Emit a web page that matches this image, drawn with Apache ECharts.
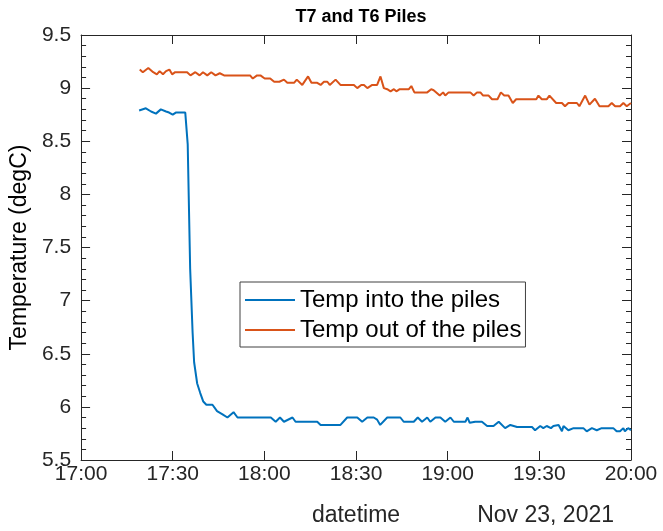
<!DOCTYPE html>
<html>
<head>
<meta charset="utf-8">
<script src="https://cdn.jsdelivr.net/npm/echarts@6/dist/echarts.min.js"></script>
<style>html,body{margin:0;padding:0;background:#fff}#c{width:663px;height:531px}</style>
</head>
<body>
<div id="c"></div>
<script>
// minutes after 17:00
const xTickLabels = ['17:00','17:30','18:00','18:30','19:00','19:30','20:00'];
const seriesNames = ['Temp into the piles','Temp out of the piles'];

const timeIn = [19.0,19.6,21.2,22.9,24.5,26.1,27.8,28.8,30.0,31.0,34.1,34.9,35.7,36.5,37.0,38.0,39.0,40.0,41.0,43.0,44.5,46.3,47.9,49.9,51.2,62.1,63.7,65.1,66.4,69.2,70.2,77.3,78.4,84.9,87.1,90.4,92.0,93.7,95.8,96.9,97.9,100.2,104.5,105.6,108.9,110.2,111.6,113.3,114.3,116.0,117.6,119.2,120.9,122.0,125.8,126.5,127.2,129.0,131.2,132.9,135.0,136.7,138.8,140.5,142.7,147.6,148.6,150.3,151.3,152.4,153.8,154.6,156.3,157.4,157.9,159.5,161.2,164.4,165.5,167.2,168.8,170.4,174.2,175.3,176.4,177.5,178.0,179.1,180.0];
const tempIn = [8.79,8.78,8.81,8.78,8.76,8.80,8.78,8.77,8.75,8.77,8.77,8.47,7.3,6.70,6.42,6.22,6.13,6.05,6.02,6.02,5.96,5.93,5.90,5.95,5.90,5.90,5.86,5.90,5.86,5.90,5.86,5.86,5.83,5.83,5.90,5.90,5.86,5.90,5.90,5.88,5.83,5.90,5.90,5.86,5.86,5.90,5.86,5.90,5.86,5.90,5.90,5.86,5.90,5.86,5.86,5.90,5.85,5.86,5.86,5.82,5.82,5.86,5.80,5.83,5.81,5.81,5.78,5.82,5.80,5.82,5.80,5.82,5.83,5.77,5.82,5.78,5.80,5.80,5.77,5.80,5.78,5.80,5.80,5.77,5.77,5.80,5.77,5.80,5.78];

const timeOut = [19.2,20.2,22.0,23.6,24.8,25.7,26.8,27.8,28.9,29.8,30.8,34.7,35.8,37.4,38.8,39.9,41.3,42.6,44.0,45.4,46.8,55.3,56.2,57.6,58.7,60.1,61.9,63.2,64.9,66.4,67.5,69.7,70.6,72.4,74.3,75.4,77.3,78.4,79.5,80.6,81.4,83.3,84.9,89.3,90.4,91.7,92.6,93.7,95.3,96.9,98.0,99.1,100.2,101.3,102.4,103.2,104.3,107.3,108.1,109.1,113.3,114.6,115.4,117.4,118.5,119.2,120.3,127.4,128.5,129.6,130.7,131.6,133.4,134.5,136.3,137.4,138.5,139.9,141.3,142.4,149.0,149.7,150.8,152.4,153.3,155.5,157.4,158.4,159.5,162.3,163.1,165.0,166.4,168.2,169.7,172.6,173.7,174.8,176.4,177.5,178.6,180.0];
const tempOut = [9.175,9.15,9.19,9.15,9.13,9.16,9.13,9.16,9.175,9.13,9.15,9.15,9.12,9.15,9.12,9.15,9.12,9.15,9.12,9.14,9.12,9.12,9.09,9.12,9.12,9.09,9.09,9.06,9.06,9.08,9.05,9.05,9.08,9.03,9.11,9.05,9.05,9.03,9.06,9.06,9.03,9.08,9.03,9.03,9.00,9.03,9.03,9.00,9.03,9.03,9.11,9.00,8.99,8.97,8.99,8.97,8.99,8.99,9.02,8.96,8.96,8.99,8.98,8.93,8.96,8.93,8.96,8.96,8.93,8.96,8.96,8.93,8.93,8.895,8.895,8.96,8.93,8.93,8.86,8.895,8.895,8.93,8.895,8.895,8.93,8.86,8.86,8.83,8.86,8.86,8.83,8.93,8.845,8.90,8.83,8.83,8.86,8.83,8.83,8.86,8.83,8.86];

const zip = (a, b) => a.map((v, i) => [v, b[i]]);
const FONT = 'Liberation Sans, Arial, sans-serif';
const AX = '#262626';

const chart = echarts.init(document.getElementById('c'), null, {renderer: 'canvas'});
const xBase = {
  type: 'value', min: 0, max: 180, interval: 30,
  axisLine: {show: true, onZero: false, lineStyle: {color: AX, width: 1}},
  axisTick: {show: true, inside: true, length: 9, lineStyle: {color: AX}},
  splitLine: {show: false}
};
const yBase = {
  type: 'value', min: 5.5, max: 9.5, interval: 0.5,
  axisLine: {show: true, onZero: false, lineStyle: {color: AX, width: 1}},
  axisTick: {show: true, inside: true, length: 9, lineStyle: {color: AX}},
  minorTick: {show: true, splitNumber: 5, length: 5, lineStyle: {color: AX}},
  splitLine: {show: false}
};
chart.setOption({
  animation: false,
  backgroundColor: '#fff',
  textStyle: {fontFamily: FONT},
  title: {
    text: 'T7 and T6 Piles', left: 356, top: 3, textAlign: 'center',
    textStyle: {fontFamily: FONT, fontSize: 18, fontWeight: 'bold', color: '#000'}
  },
  grid: {left: 80, right: 32, top: 35, bottom: 71, containLabel: false},
  xAxis: [
    Object.assign({}, xBase, {
      position: 'bottom',
      axisLabel: {show: true, margin: 4, fontSize: 21, color: AX, fontFamily: FONT,
        formatter: v => xTickLabels[Math.round(v / 30)]}
    }),
    Object.assign({}, xBase, {position: 'top', axisLabel: {show: false}})
  ],
  yAxis: [
    Object.assign({}, yBase, {
      position: 'left',
      name: 'Temperature (degC)', nameLocation: 'middle', nameGap: 49,
      nameTextStyle: {fontSize: 23, color: '#000', fontFamily: FONT},
      axisLabel: {show: true, margin: 10, fontSize: 21, color: AX, fontFamily: FONT}
    }),
    Object.assign({}, yBase, {position: 'right', axisLabel: {show: false}})
  ],
  legend: {
    orient: 'vertical', left: 240, top: 282,
    padding: [6, 4, 5, 5],
    icon: 'rect',
    itemWidth: 50, itemHeight: 2, itemGap: 6,
    backgroundColor: '#fff', borderColor: '#404040', borderWidth: 1,
    textStyle: {fontSize: 24, color: '#000', fontFamily: FONT, lineHeight: 24},
    data: seriesNames
  },
  graphic: [
    {type: 'text', x: 356, y: 504, style: {text: 'datetime', font: '23px ' + FONT, fill: '#262626', textAlign: 'center'}},
    {type: 'text', x: 614, y: 504, style: {text: 'Nov 23, 2021', font: '23px ' + FONT, fill: '#262626', textAlign: 'right'}}
  ],
  series: [
    {name: seriesNames[0], type: 'line', data: zip(timeIn, tempIn), symbol: 'none',
      lineStyle: {color: '#0072BD', width: 2}, itemStyle: {color: '#0072BD'}},
    {name: seriesNames[1], type: 'line', data: zip(timeOut, tempOut), symbol: 'none',
      lineStyle: {color: '#D95319', width: 2}, itemStyle: {color: '#D95319'}}
  ]
});
</script>
</body>
</html>
